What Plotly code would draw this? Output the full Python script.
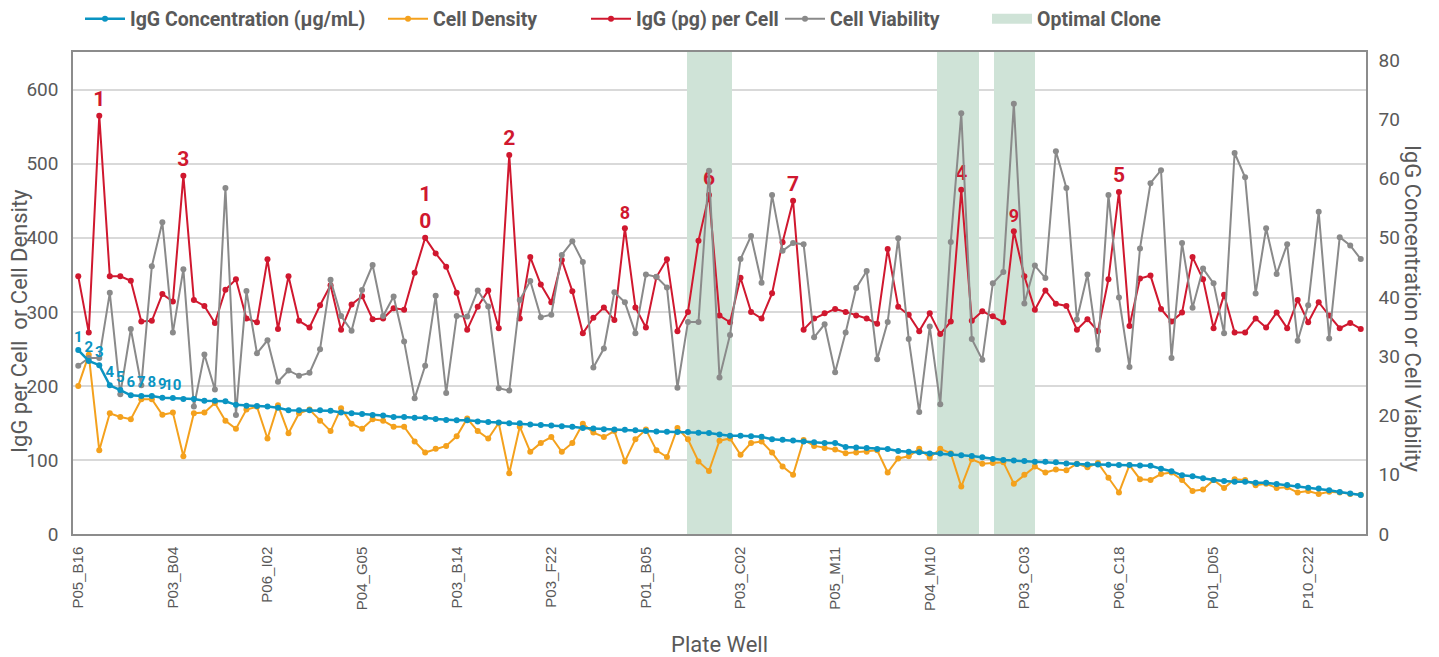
import plotly.graph_objects as go

# x-axis tick labels (every 9th plate well is labelled)
plate_well_ticks = ["P05_B16", "P03_B04", "P06_I02", "P04_G05", "P03_B14", "P03_F22",
                    "P01_B05", "P03_C02", "P05_M11", "P04_M10", "P03_C03", "P06_C18",
                    "P01_D05", "P10_C22"]

# IgG concentration (ug/mL), sorted high -> low  (right axis)
igg_conc = [31.05, 29.2, 28.5, 25.1, 24.3, 23.4, 23.3, 23.3, 23.0, 22.95,
            22.8, 22.8, 22.5, 22.5, 22.4, 21.8, 21.65, 21.6, 21.5, 21.3,
            20.9, 20.9, 20.9, 20.9, 20.8, 20.5, 20.4, 20.25, 20.1, 20.0,
            19.75, 19.75, 19.6, 19.6, 19.4, 19.25, 19.2, 19.2, 19.0, 18.9,
            18.8, 18.7, 18.7, 18.5, 18.4, 18.3, 18.2, 18.1, 17.9, 17.8,
            17.7, 17.65, 17.6, 17.5, 17.4, 17.3, 17.25, 17.2, 17.2, 17.1,
            17.05, 16.8, 16.6, 16.6, 16.5, 16.4, 16.0, 15.9, 15.8, 15.6,
            15.5, 15.35, 15.35, 14.7, 14.6, 14.5, 14.35, 14.35, 14.0, 13.9,
            13.8, 13.6, 13.6, 13.5, 13.3, 13.15, 12.95, 12.65, 12.5, 12.4,
            12.3, 12.2, 12.2, 12.1, 11.9, 11.8, 11.75, 11.75, 11.7, 11.65,
            11.65, 11.55, 11.5, 11.0, 10.6, 9.9, 9.75, 9.4, 9.1, 8.95,
            8.8, 8.8, 8.65, 8.65, 8.45, 8.25, 8.1, 7.8, 7.7, 7.4,
            7.1, 6.85, 6.6]

# cell density (left axis)
cell_density = [200, 242, 113, 163, 158, 155, 182, 182, 161, 164,
                105, 163, 164, 177, 153, 142, 168, 172, 129, 174,
                136, 163, 168, 153, 139, 170, 149, 142, 155, 153,
                145, 145, 125, 110, 115, 119, 132, 156, 139, 129,
                150, 82, 145, 111, 123, 131, 111, 123, 149, 137,
                131, 139, 98, 128, 141, 113, 104, 143, 128, 98,
                85, 126, 129, 107, 123, 125, 110, 91, 80, 127,
                119, 116, 114, 109, 110, 111, 113, 83, 102, 105,
                115, 103, 115, 109, 64, 101, 95, 96, 97, 68,
                80, 91, 83, 87, 86, 95, 90, 96, 76, 56,
                93, 74, 73, 81, 83, 73, 58, 60, 73, 62,
                74, 73, 66, 68, 62, 63, 56, 58, 54, 57,
                56, 54, 53]

# IgG (pg) per cell (left axis)
igg_per_cell = [348, 272, 565, 348, 348, 342, 287, 288, 324, 314,
                484, 316, 308, 285, 330, 344, 291, 286, 371, 277,
                348, 288, 279, 309, 336, 276, 310, 321, 290, 291,
                305, 303, 353, 400, 379, 361, 326, 276, 307, 329,
                278, 512, 291, 374, 337, 313, 370, 328, 271, 292,
                306, 289, 413, 306, 279, 347, 371, 274, 300, 396,
                458, 295, 286, 346, 300, 291, 325, 394, 450, 276,
                291, 298, 304, 300, 295, 291, 284, 385, 307, 296,
                274, 298, 270, 287, 465, 288, 301, 294, 286, 409,
                348, 303, 329, 311, 308, 276, 290, 274, 344, 462,
                281, 345, 349, 304, 287, 299, 374, 344, 278, 323,
                272, 272, 291, 279, 299, 278, 316, 286, 313, 295,
                278, 285, 277]

# cell viability (right axis)
viability = [28.4, 29.7, 29.7, 40.7, 23.6, 34.6, 25.1, 45.2, 52.6, 34.0,
             44.7, 21.5, 30.3, 24.4, 58.4, 20.1, 41.0, 30.5, 32.7, 25.7,
             27.6, 26.7, 27.2, 31.2, 42.9, 36.8, 34.3, 41.2, 45.4, 36.8,
             40.1, 32.5, 22.9, 28.4, 40.2, 23.8, 36.8, 36.7, 41.1, 38.4,
             24.6, 24.2, 39.5, 42.7, 36.6, 37.0, 47.1, 49.4, 45.9, 28.1,
             31.3, 40.8, 39.1, 33.9, 43.8, 43.4, 41.6, 24.7, 35.8, 35.8,
             61.3, 26.4, 33.6, 46.4, 50.3, 42.4, 57.2, 47.8, 49.1, 48.9,
             33.2, 35.4, 27.3, 34.0, 41.5, 44.4, 29.5, 35.8, 49.9, 32.9,
             20.6, 35.0, 21.9, 49.3, 71.0, 32.9, 29.4, 42.3, 44.2, 72.6,
             38.9, 45.3, 43.2, 64.6, 58.4, 36.2, 43.8, 31.1, 57.2, 39.9,
             28.2, 48.2, 59.2, 61.4, 29.7, 49.1, 38.2, 44.8, 42.3, 33.9,
             64.3, 60.2, 40.6, 51.6, 43.9, 48.9, 32.6, 38.6, 54.4, 33.0,
             50.1, 48.7, 46.4]

# well positions of the top-10 IgG-per-cell clones, in rank order
top_per_cell_wells = [2, 41, 10, 84, 99, 60, 68, 52, 89, 33]

# optimal clone bands: centre position and width (in wells), full height
optimal_clone_pos = [60.05, 83.7, 89.1]
optimal_clone_width = [4.3, 4.0, 3.9]
optimal_clone_height = [651, 651, 651]

BLUE = "#0A94C2"
ORANGE = "#F4A11D"
RED = "#D0182F"
GRAY = "#8A8A8A"
GREEN = "#CFE3D7"
TXT = "#595959"
FONT = "Roboto, Liberation Sans, sans-serif"

wells = list(range(len(igg_conc)))

conc_text = [str(i + 1) if i < 10 else "" for i in wells]
red_text = [""] * len(wells)
red_size = [21] * len(wells)
for rank, w in enumerate(top_per_cell_wells, start=1):
    red_text[w] = "1<br>0" if rank == 10 else str(rank)
    if rank in (8, 9):
        red_size[w] = 18

fig = go.Figure()

fig.add_trace(go.Bar(
    x=optimal_clone_pos, y=optimal_clone_height, width=optimal_clone_width,
    marker=dict(color=GREEN, line=dict(width=0)), showlegend=False, hoverinfo="skip",
))
fig.add_trace(go.Scatter(
    x=wells, y=viability, yaxis="y2", mode="lines+markers", name="Cell Viability",
    line=dict(color=GRAY, width=2), marker=dict(color=GRAY, size=6), legend="legend4",
))
fig.add_trace(go.Scatter(
    x=wells, y=igg_per_cell, mode="lines+markers+text", name="IgG (pg) per Cell",
    line=dict(color=RED, width=2), marker=dict(color=RED, size=6), legend="legend3",
    text=red_text, textposition="top center", cliponaxis=False,
    textfont=dict(family=FONT, size=red_size, color=RED, weight="bold"),
))
fig.add_trace(go.Scatter(
    x=wells, y=cell_density, mode="lines+markers", name="Cell Density",
    line=dict(color=ORANGE, width=2), marker=dict(color=ORANGE, size=6), legend="legend2",
))
fig.add_trace(go.Scatter(
    x=wells, y=igg_conc, yaxis="y2", mode="lines+markers+text",
    name="IgG Concentration (µg/mL)",
    line=dict(color=BLUE, width=2.5), marker=dict(color=BLUE, size=6), legend="legend",
    text=conc_text, textposition="top center", cliponaxis=False,
    textfont=dict(family=FONT, size=15, color=BLUE, weight="bold"),
))
# legend swatch for the shaded bands (wide block like the original)
fig.add_trace(go.Scatter(
    x=[None], y=[None], mode="lines", name="Optimal Clone",
    line=dict(color=GREEN, width=17), legend="legend5",
))


def legend_at(x_px):
    return dict(
        orientation="h", xref="container", yref="container",
        x=x_px / 1431, y=1 - 11 / 649, xanchor="left", yanchor="middle",
        font=dict(family=FONT, size=19.5, color=TXT, weight="bold"),
        itemwidth=40, bgcolor="rgba(0,0,0,0)",
    )


# page body adds an 8px offset, so the figure is 8px smaller and shifted
fig.update_layout(
    width=1431, height=649,
    margin=dict(l=65, r=73, t=44, b=123, autoexpand=False),
    paper_bgcolor="white", plot_bgcolor="white",
    bargap=0, barmode="overlay",
    font=dict(family=FONT, color=TXT, size=19),
    legend=legend_at(72),
    legend2=legend_at(375),
    legend3=legend_at(578),
    legend4=legend_at(772),
    legend5=legend_at(979),
    xaxis=dict(
        range=[-0.5, len(wells) - 0.5], automargin=False,
        tickmode="array", tickvals=wells[::9], ticktext=plate_well_ticks,
        tickangle=-90, tickfont=dict(family="Liberation Sans, Arial, sans-serif", size=15, color=TXT),
        ticklabelstandoff=5,
        showgrid=False, showline=True, linecolor="#8C8C8C", linewidth=1.5,
        mirror=True, ticks="", zeroline=False,
    ),
    yaxis=dict(
        range=[0, 651], tick0=0, dtick=100, automargin=False,
        showgrid=True, gridcolor="#D9D9D9", gridwidth=1.5,
        showline=True, linecolor="#8C8C8C", linewidth=1.5, zeroline=False,
        tickfont=dict(size=19, color=TXT), ticks="", ticklabelstandoff=9,
    ),
    yaxis2=dict(
        range=[0, 81.35], tick0=0, dtick=10, overlaying="y", side="right",
        automargin=False,
        showgrid=False, showline=True, linecolor="#8C8C8C", linewidth=1.5,
        zeroline=False, tickfont=dict(size=19, color=TXT), ticks="", ticklabelstandoff=7,
    ),
    annotations=[
        dict(text="IgG per Cell  or Cell Density", xref="paper", yref="paper",
             x=-0.0418, y=(526 - 313) / 482, textangle=-90, showarrow=False,
             font=dict(size=22, color=TXT), xanchor="center", yanchor="middle"),
        dict(text="IgG Concentration or Cell Viability", xref="paper", yref="paper",
             x=1.0364, y=(526 - 301) / 482, textangle=90, showarrow=False,
             font=dict(size=22, color=TXT), xanchor="center", yanchor="middle"),
        dict(text="Plate Well", xref="paper", yref="paper",
             x=0.5, y=(526 - 636) / 482, showarrow=False,
             font=dict(size=22, color=TXT), xanchor="center", yanchor="middle"),
    ],
)

fig.write_html("out.html")
